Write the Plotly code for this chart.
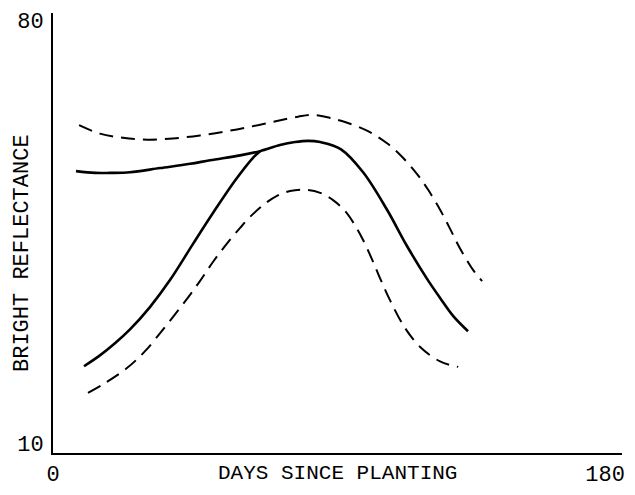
import plotly.graph_objects as go

# Upper dashed envelope
upper_dash_x = [8.5, 15.3, 22.8, 30.7, 39.1, 47.9, 56.7, 64.9, 73.0, 79.9, 84.8, 90.3, 95.9,
                102.7, 108.9, 114.1, 118.7, 122.3, 126.2, 129.5, 132.7, 137.0, 139.9]
upper_dash_y = [62.6, 61.2, 60.5, 60.2, 60.4, 60.9, 61.6, 62.4, 63.3, 64.0, 64.3, 63.8, 63.0,
                61.6, 59.6, 57.2, 54.5, 51.9, 48.6, 45.4, 42.2, 38.6, 36.8]

# Upper solid curve (flat start, peak, decline)
upper_solid_x = [7.5, 13.7, 18.6, 25.1, 34.9, 44.7, 51.2, 61.0, 67.5, 74.0, 78.9, 83.2, 87.1,
                 93.9, 101.1, 108.9, 115.4, 121.9, 126.2, 130.5, 135.3]
upper_solid_y = [55.0, 54.7, 54.7, 54.8, 55.5, 56.2, 56.8, 57.6, 58.3, 59.3, 59.8, 60.0, 59.8,
                 58.6, 54.8, 48.6, 42.6, 37.2, 34.0, 31.0, 28.5]

# Lower solid curve (rising branch joining the peak)
lower_solid_x = [10.1, 15.3, 20.2, 25.1, 31.6, 38.2, 45.7, 52.2, 59.3, 65.2, 67.5]
lower_solid_y = [22.7, 24.5, 26.5, 28.8, 32.5, 37.0, 43.0, 48.1, 53.4, 57.2, 58.3]

# Lower dashed envelope
lower_dash_x = [11.4, 16.9, 24.1, 30.0, 36.5, 43.0, 47.9, 52.2, 56.7, 61.0, 64.2, 69.1, 73.0,
                77.3, 82.2, 87.1, 91.3, 95.2, 98.5, 101.1, 104.0, 106.6, 109.9, 114.8, 119.7,
                126.2, 132.1]
lower_dash_y = [18.3, 19.9, 22.4, 25.2, 29.2, 33.4, 36.8, 40.0, 43.0, 45.6, 47.4, 49.6, 50.9,
                51.7, 51.9, 51.4, 50.2, 48.4, 46.0, 43.6, 40.4, 37.3, 33.6, 29.0, 25.9,
                23.5, 22.6]

x_tick_vals = [0, 180]
x_tick_text = ["0", "180"]
y_tick_vals = [10, 80]
y_tick_text = ["10", "80"]
x_title = "DAYS SINCE PLANTING"
y_title = "BRIGHT REFLECTANCE"

FONT = "Liberation Mono, DejaVu Sans Mono, monospace"

fig = go.Figure()
dash_style = "14px,8px"
fig.add_trace(go.Scatter(x=upper_dash_x, y=upper_dash_y, mode="lines",
                         line=dict(color="black", width=2, dash=dash_style, shape="spline", smoothing=1)))
fig.add_trace(go.Scatter(x=upper_solid_x, y=upper_solid_y, mode="lines",
                         line=dict(color="black", width=2.6, shape="spline", smoothing=1)))
fig.add_trace(go.Scatter(x=lower_solid_x, y=lower_solid_y, mode="lines",
                         line=dict(color="black", width=2.6, shape="spline", smoothing=1)))
fig.add_trace(go.Scatter(x=lower_dash_x, y=lower_dash_y, mode="lines",
                         line=dict(color="black", width=2, dash=dash_style, shape="spline", smoothing=1)))

# The page body has an 8px margin, so the figure is sized/offset to compensate.
fig.update_layout(
    width=619, height=479,
    margin=dict(l=45, r=5, t=5, b=34, autoexpand=False),
    paper_bgcolor="white", plot_bgcolor="white",
    showlegend=False,
    font=dict(family=FONT, color="black", size=22),
    xaxis=dict(range=[0, 185.5], showgrid=False, zeroline=False, automargin=False,
               showline=True, linecolor="black", linewidth=1.5,
               tickvals=x_tick_vals, ticktext=x_tick_text, ticks="",
               ticklabelstandoff=0, tickfont=dict(size=22, family=FONT)),
    yaxis=dict(range=[8.35, 81.16], showgrid=False, zeroline=False, automargin=False,
               showline=True, linecolor="black", linewidth=2,
               tickvals=y_tick_vals, ticktext=y_tick_text, ticks="",
               ticklabelstandoff=3, tickfont=dict(size=22, family=FONT)),
    annotations=[
        dict(text=x_title, xref="paper", yref="paper", x=0.5, y=-0.047,
             xanchor="center", yanchor="middle", showarrow=False,
             font=dict(size=21, family=FONT)),
        dict(text=y_title, xref="paper", yref="paper", x=-0.0545, y=0.4545,
             xanchor="center", yanchor="middle", showarrow=False, textangle=-90,
             font=dict(size=22, family=FONT)),
    ],
)

fig.write_html("out.html")
